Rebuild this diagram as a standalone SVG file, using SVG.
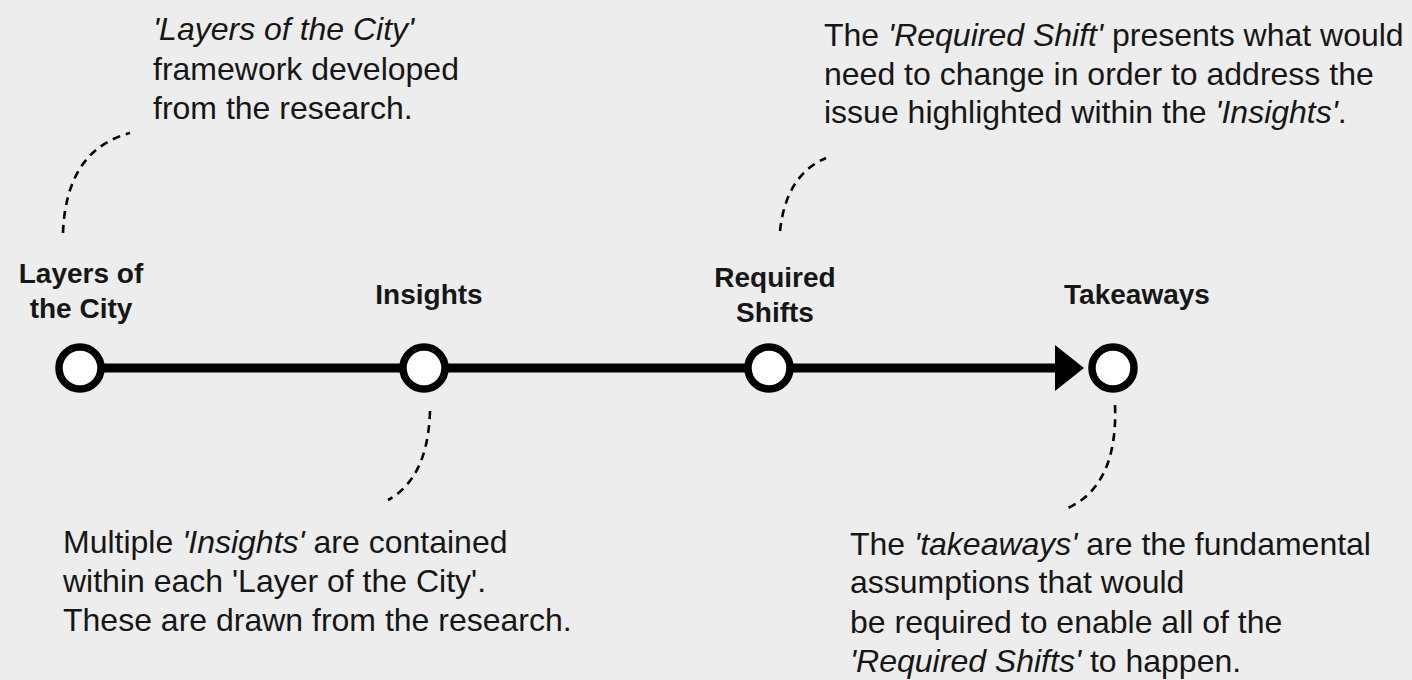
<svg xmlns="http://www.w3.org/2000/svg" width="1412" height="680" viewBox="0 0 1412 680">
<style>
text{font-family:"Liberation Sans",Arial,sans-serif;fill:#161616}
.lbl{font-size:28px;font-weight:bold;text-anchor:middle}
.note{font-size:32px}
.it{font-style:italic}
.node{fill:#fff;stroke:#000;stroke-width:7.5}
.dash{fill:none;stroke:#000;stroke-width:2.6;stroke-dasharray:8 6}
</style>
<rect width="1412" height="680" fill="#ededed"/>
<g id="connectors">
<line x1="80" y1="368" x2="1058" y2="368" stroke="#000" stroke-width="9"/>
<polygon points="1055,345 1084,368 1055,391" fill="#000"/>
<path class="dash" d="M63 233 Q66 150 130 133"/>
<path class="dash" d="M430 411 Q428 478 388 500"/>
<path class="dash" d="M780 231 Q786 175 826 158"/>
<path class="dash" d="M1115 405 Q1118 485 1068 508"/>
</g>
<g id="node-layers">
<circle class="node" cx="80" cy="368" r="21"/>
<text class="lbl" x="81" y="283">Layers of</text>
<text class="lbl" x="81" y="318">the City</text>
</g>
<g id="node-insights">
<circle class="node" cx="424" cy="368" r="21"/>
<text class="lbl" x="429" y="304">Insights</text>
</g>
<g id="node-shifts">
<circle class="node" cx="769" cy="368" r="21"/>
<text class="lbl" x="775" y="287">Required</text>
<text class="lbl" x="775" y="322">Shifts</text>
</g>
<g id="node-takeaways">
<circle class="node" cx="1113" cy="368" r="21"/>
<text class="lbl" x="1137" y="304">Takeaways</text>
</g>
<g id="note-layers">
<text class="note" x="153" y="40"><tspan class="it">'Layers of the City'</tspan></text>
<text class="note" x="153" y="80">framework developed</text>
<text class="note" x="153" y="119">from the research.</text>
</g>
<g id="note-shifts">
<text class="note" x="824" y="46">The <tspan class="it">'Required Shift'</tspan> presents what would</text>
<text class="note" x="824" y="85">need to change in order to address the</text>
<text class="note" x="824" y="123">issue highlighted within the <tspan class="it">'Insights'</tspan>.</text>
</g>
<g id="note-insights">
<text class="note" x="63" y="553">Multiple <tspan class="it">'Insights'</tspan> are contained</text>
<text class="note" x="63" y="592">within each 'Layer of the City'.</text>
<text class="note" x="63" y="631">These are drawn from the research.</text>
</g>
<g id="note-takeaways">
<text class="note" x="850" y="555">The <tspan class="it">'takeaways'</tspan> are the fundamental</text>
<text class="note" x="850" y="593">assumptions that would</text>
<text class="note" x="850" y="633">be required to enable all of the</text>
<text class="note" x="850" y="672"><tspan class="it">'Required Shifts'</tspan> to happen.</text>
</g>
</svg>
